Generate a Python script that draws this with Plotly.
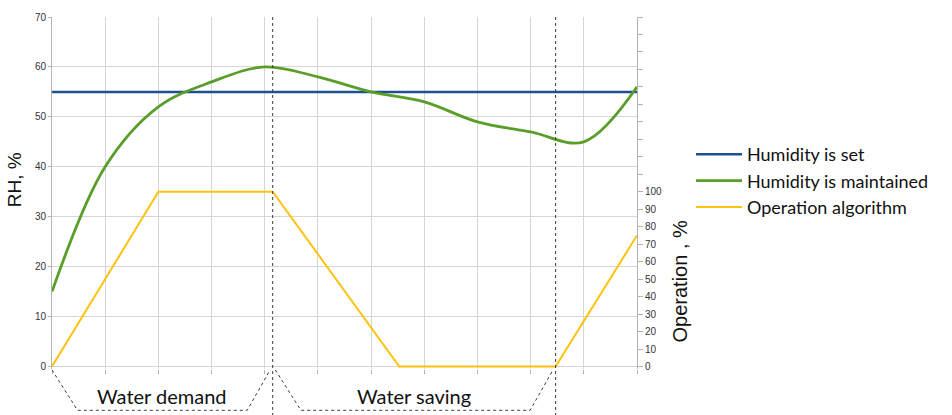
import plotly.graph_objects as go

# ---- data ----
x_points = list(range(12))
humidity_set = [55] * 12
humidity_maintained = [15, 40, 52, 57, 60, 58, 55, 53, 49, 47, 45, 56]
algo_x = [0, 2, 4.15, 6.53, 9.47, 11]
algo_y = [0, 100, 100, 0, 0, 75]
phase_bounds = [0, 4.15, 9.47]
phase_labels = ["Water demand", "Water saving"]
left_ticks = list(range(0, 71, 10))
right_ticks = list(range(0, 201, 10))
right_ticktext = [str(v) if v <= 100 else "" for v in right_ticks]

BLUE = "#1f4f8f"
GREEN = "#5a9e2a"
YELLOW = "#ffc20e"
GRID = "#d6d6d6"
AXIS = "#b3b3b3"
DASH = "#3a3a3a"

W, H = 952, 415
ml, mr, mt, mb = 52, 315, 11, 46
pw, ph = W - ml - mr, H - mt - mb
Y_LO = -0.5            # small pad so lines at zero are not clipped
Y2_LO = Y_LO * 200 / 70


def py2paper(py):
    return (H - mb - py) / ph


def px2paper(px):
    return (px - ml) / pw


fig = go.Figure()
fig.add_trace(go.Scatter(x=x_points, y=humidity_set, mode="lines", name="Humidity is set",
                         line=dict(color=BLUE, width=2.5), legendgroup="a"))
fig.add_trace(go.Scatter(x=x_points, y=humidity_maintained, mode="lines", name="Humidity is maintained",
                         line=dict(color=GREEN, width=2.8, shape="spline", smoothing=1.0), legendgroup="b"))
fig.add_trace(go.Scatter(x=algo_x, y=algo_y, mode="lines", name="Operation algorithm",
                         line=dict(color=YELLOW, width=2), yaxis="y2", legendgroup="c"))

shapes = []
for bx in phase_bounds[1:]:
    shapes.append(dict(type="line", xref="x", yref="paper", x0=bx, x1=bx,
                       y0=py2paper(11), y1=py2paper(416),
                       line=dict(color=DASH, width=1, dash="3px,3px")))
top_y, bot_y = py2paper(370), py2paper(411)
for i in range(2):
    a = phase_bounds[i] + (0 if i == 0 else 0.05)
    b = phase_bounds[i + 1] - 0.05
    path = (f"M {a},{top_y} L {a + 0.48},{bot_y} L {b - 0.43},{bot_y} L {b},{top_y}")
    shapes.append(dict(type="path", xref="x", yref="paper", path=path,
                       line=dict(color=DASH, width=1, dash="3px,3px")))

annotations = []
for i, lab in enumerate(phase_labels):
    cx = (phase_bounds[i] + phase_bounds[i + 1]) / 2
    annotations.append(dict(text=lab, x=cx, y=py2paper(396), xref="x", yref="paper", showarrow=False,
                            font=dict(family="Lato", size=20, color="#111111"),
                            xanchor="center", yanchor="middle"))
for text, px, py, size in [("RH, %", 14, 177, 19), ("Operation , %", 680, 280, 20)]:
    annotations.append(dict(text=text, x=px2paper(px), y=py2paper(py),
                            xref="paper", yref="paper", showarrow=False, textangle=-90,
                            xanchor="center", yanchor="middle",
                            font=dict(family="Liberation Sans", size=size, color="#111111")))

fig.update_layout(
    width=W, height=H,
    margin=dict(l=ml, r=mr, t=mt, b=mb),
    paper_bgcolor="white", plot_bgcolor="white",
    showlegend=True,
    legend=dict(x=691 / W, y=(H - 136) / H, xref="container", yref="container",
                xanchor="left", yanchor="top", traceorder="grouped", tracegroupgap=0,
                itemwidth=46,
                font=dict(family="Lato", size=18, color="#111111"),
                bgcolor="rgba(0,0,0,0)"),
    xaxis=dict(range=[0, 11], tickvals=x_points, showticklabels=False, showgrid=True,
               gridcolor=GRID, gridwidth=1, showline=False,
               ticks="outside", ticklen=4, tickcolor=AXIS, zeroline=False),
    yaxis=dict(range=[Y_LO, 70], tickvals=left_ticks, showgrid=True, gridcolor=GRID, gridwidth=1,
               showline=True, linecolor=AXIS, linewidth=1, ticks="outside", ticklen=3,
               tickcolor=AXIS, zeroline=False, layer="below traces",
               tickfont=dict(family="Liberation Sans", size=10, color="#333333")),
    yaxis2=dict(range=[Y2_LO, 200], overlaying="y", side="right", tickvals=right_ticks,
                ticktext=right_ticktext, showgrid=False, showline=True, linecolor=AXIS,
                linewidth=1, ticks="outside", ticklen=5, tickcolor=AXIS, zeroline=False,
                layer="below traces",
                tickfont=dict(family="Liberation Sans", size=10, color="#333333")),
    shapes=shapes,
    annotations=annotations,
)

fig.write_html("out.html", post_script="document.body.style.margin='0';",
               config={"displayModeBar": False})
